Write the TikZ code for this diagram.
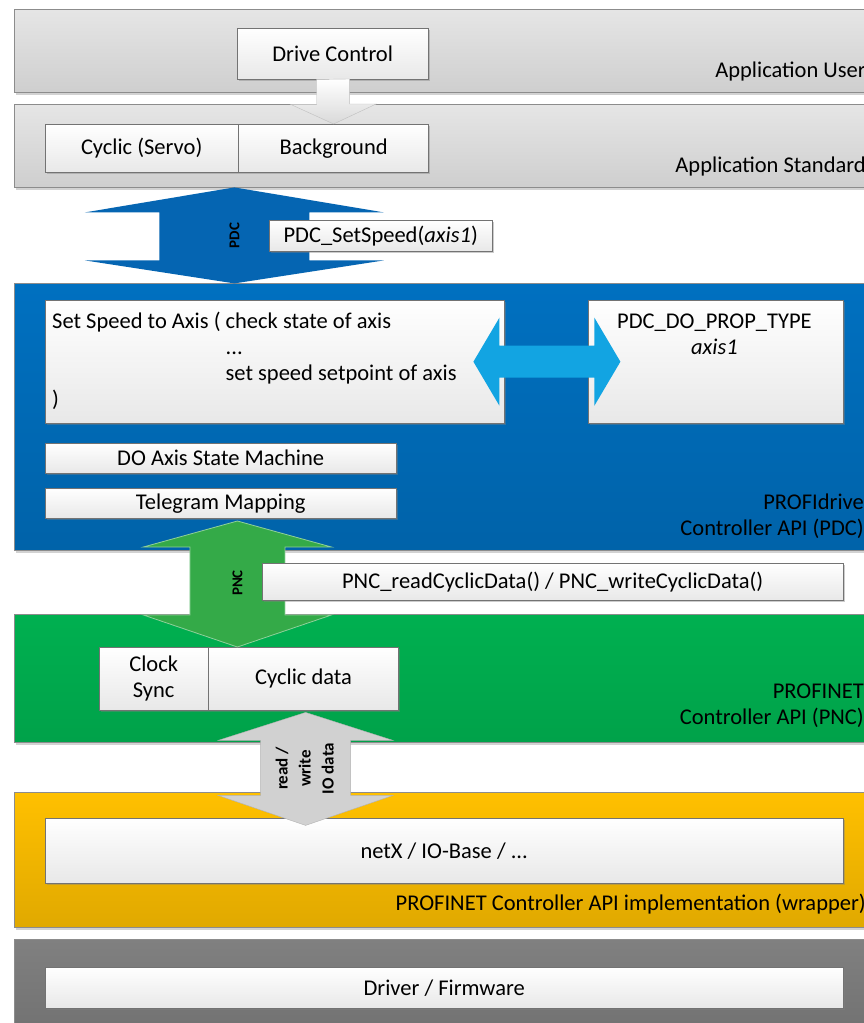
\documentclass[tikz,border=0pt]{standalone}
\usepackage{fontspec}
\setmainfont{Carlito}
\usetikzlibrary{calc,shadows}

\definecolor{pdblue}{HTML}{0070C0}
\definecolor{pdarrow}{HTML}{0565B2}
\definecolor{axisarrow}{HTML}{12A4E2}
\definecolor{pngreen}{HTML}{00B050}
\definecolor{pnarrow}{HTML}{34AA48}
\definecolor{wrapyellow}{HTML}{FFC000}
\definecolor{drvgray}{HTML}{808080}

\tikzset{
	layer/.style={draw=black!45, anchor=north west, inner sep=0pt, minimum width=880pt,
		drop shadow={shadow xshift=2pt, shadow yshift=-2.5pt, opacity=.35}},
	box/.style={draw=black!55, top color=white, bottom color=black!9, inner sep=0pt,
		anchor=north west, drop shadow={shadow xshift=1.5pt, shadow yshift=-2pt, opacity=.4}},
	layertxt/.style={anchor=east, align=right, inner sep=0pt},
	ifacetxt/.style={rotate=90, inner sep=0pt, align=center, font=\fontsize{15}{18}\selectfont\bfseries},
}

\begin{document}
\begin{tikzpicture}[x=1pt, y=-1pt, font=\fontsize{22.5}{26}\selectfont]
	\useasboundingbox (0,0) rectangle (864,1023);
	\clip (0,0) rectangle (864,1023);
	\fill[white] (0,0) rectangle (864,1023);

	% layers
	\node[layer, top color=black!10, bottom color=black!19, minimum height=83pt] (appuser) at (14,9) {};
	\node[layer, top color=black!10, bottom color=black!19, minimum height=83pt] (appstd) at (14,104) {};
	\node[layer, top color=pdblue, bottom color=pdblue!88!black, minimum height=267pt] (pd) at (14,283) {};
	\node[layer, top color=pngreen, bottom color=pngreen!92!black, minimum height=128pt] (pn) at (14,614) {};
	\node[layer, top color=wrapyellow, bottom color=wrapyellow!88!black, minimum height=135pt] (wrap) at (14,792) {};
	\node[layer, top color=drvgray, bottom color=drvgray!88!black, minimum height=100pt] (drv) at (14,939) {};

	\node[layertxt] (appuserlbl) at (866,71) {Application User};
	\node[layertxt] (appstdlbl) at (866,166) {Application Standard};
	\node[layertxt] (pdlbl) at (864,516) {PROFIdrive\\Controller API (PDC)};
	\node[layertxt] (pnlbl) at (864,706) {PROFINET\\Controller API (PNC)};
	\node[layertxt] (wraplbl) at (866,904) {PROFINET Controller API implementation (wrapper)};

	% boxes
	\node[box, minimum width=191pt, minimum height=51pt] (drive) at (237,28) {Drive Control};
	\node[box, minimum width=193pt, minimum height=48pt] (servo) at (45,124) {Cyclic (Servo)};
	\node[box, minimum width=190pt, minimum height=48pt] (bg) at (servo.north east) {Background};

	\node[box, minimum width=459pt, minimum height=123pt] (setspeed) at (45,300) {};
	\node[anchor=north west, inner sep=0pt] (setspeedtxt) at ($(setspeed.north west)+(7,10)$)
		{\begin{tabular}{@{}l@{ }l@{}}Set Speed to Axis ( & check state of axis\\ & ...\\ & set speed setpoint of axis\\ ) & \end{tabular}};
	\node[box, minimum width=255pt, minimum height=123pt] (doprop) at (588,300) {};
	\node[anchor=north west, inner sep=0pt] (doproptxt) at ($(doprop.north west)+(29,10)$)
		{\begin{tabular}{@{}c@{}}PDC\_DO\_PROP\_TYPE\\ \textit{axis1}\end{tabular}};
	\node[box, minimum width=351pt, minimum height=30pt] (dosm) at (45,443) {DO Axis State Machine};
	\node[box, minimum width=351pt, minimum height=30pt] (telmap) at (45,488) {Telegram Mapping};

	\node[box, minimum width=109pt, minimum height=63pt, align=center] (clock) at (99,647) {Clock\\Sync};
	\node[box, minimum width=190pt, minimum height=63pt] (cyc) at (clock.north east) {Cyclic data};

	\node[box, minimum width=798pt, minimum height=65pt] (netx) at (45,818) {netX / IO-Base / ...};
	\node[box, minimum width=798pt, minimum height=41pt] (driver) at (45,967) {Driver / Firmware};

	% block arrows
	\draw[draw=black!25, top color=white, bottom color=black!15]
		($(drive.south)+(-16,0)$) -- ++(0,25) -- ++(-26,0) -- (bg.north) -- ++(42.5,-20)
		-- ++(-26.5,0) -- ++(0,-25) -- cycle;

	\coordinate (pdtop) at ($(servo.east |- appstd.south)+(-4,0)$);
	\fill[pdarrow] (pdtop) -- ++(149.5,25) -- ++(-74.5,0) -- ++(0,48) -- ++(74.5,0)
		-- ++(-149.5,23) -- ++(-149.5,-23) -- ++(74.5,0) -- ++(0,-48) -- ++(-74.5,0) -- cycle;
	\node[ifacetxt] (pdclbl) at ($(pdtop)+(0,48)$) {PDC};

	\fill[axisarrow] ($(setspeed.east)+(-31,0)$) -- ++(26,-44) -- ++(0,28) -- ++(95,0) -- ++(0,-28)
		-- ++(26,44) -- ++(-26,44) -- ++(0,-28) -- ++(-95,0) -- ++(0,28) -- cycle;

	\coordinate (pnbot) at ($(cyc.north west)+(29,0)$);
	\draw[fill=pnarrow, draw=pnarrow!55!white, line width=.8pt] (pnbot) -- ++(-94,-32) -- ++(46.5,0)
		-- ++(0,-68) -- ++(-46.5,0) -- ++(94,-26) -- ++(94,26) -- ++(-46.5,0) -- ++(0,68)
		-- ++(46.5,0) -- cycle;
	\node[ifacetxt] (pnclbl) at ($(pnbot)+(0,-64)$) {PNC};

	\coordinate (iotop) at ($(cyc.south)+(2,2)$);
	\draw[fill=black!18, draw=black!30] (iotop) -- ++(87.5,28) -- ++(-42.5,0) -- ++(0,55)
		-- ++(42.5,0) -- ++(-87.5,30) -- ++(-87.5,-30) -- ++(42.5,0) -- ++(0,-55)
		-- ++(-42.5,0) -- cycle;
	\node[ifacetxt, font=\fontsize{17}{23}\selectfont\bfseries] (iolbl) at ($(iotop)+(-1,56)$) {read /\\write\\IO data};

	% interface calls
	\node[box, minimum width=223pt, minimum height=31pt] (pdccall) at (269,220) {PDC\_SetSpeed(\textit{axis1})};
	\node[box, minimum width=581pt, minimum height=37pt] (pnccall) at (262,563) {PNC\_readCyclicData() / PNC\_writeCyclicData()};
\end{tikzpicture}
\end{document}
